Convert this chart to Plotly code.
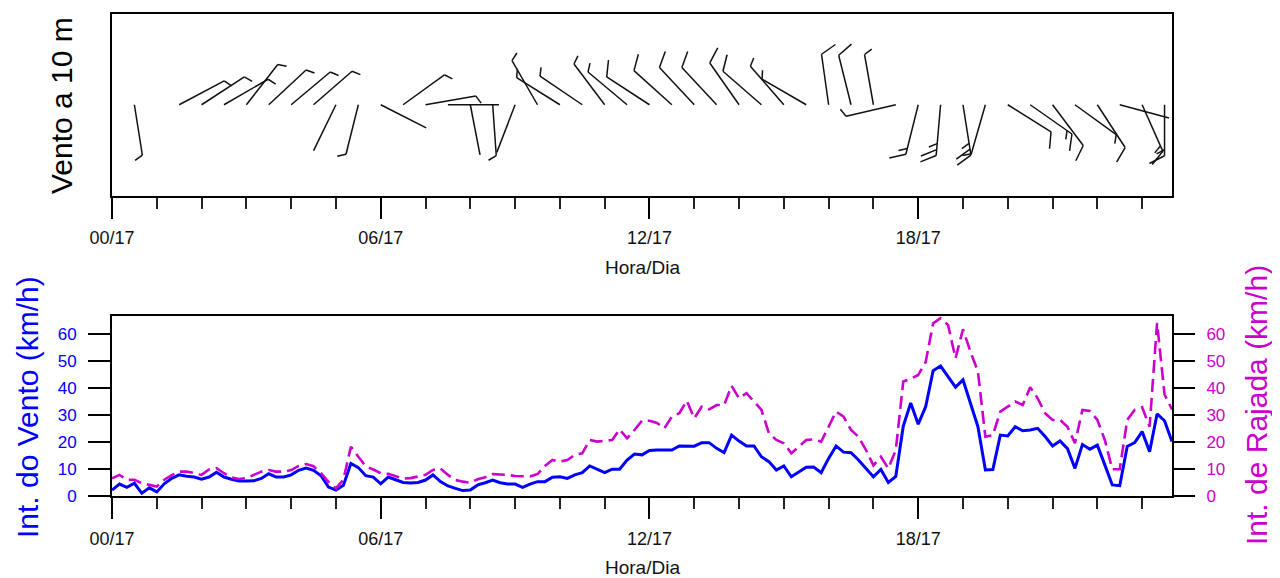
import math
import plotly.graph_objects as go

# ---------------- data ----------------
# 10-minute observations on day 17, 00:00 .. 23:40
wind_kmh = [2.2, 4.4, 3.2, 4.7, 1.0, 3.0, 1.5, 4.5, 6.5, 7.8, 7.3, 7.0, 6.2, 7.0, 8.8, 7.0, 6.2, 5.5, 5.5, 5.6,
            6.5, 8.2, 7.0, 7.0, 7.8, 9.5, 10.3, 9.5, 7.5, 3.3, 2.2, 4.0, 12.0, 10.5, 7.5, 7.0, 4.5, 7.0, 6.0, 5.0,
            4.8, 5.0, 5.9, 7.8, 5.3, 3.7, 2.8, 2.0, 2.2, 4.1, 4.9, 5.9, 4.9, 4.4, 4.4, 3.2, 4.4, 5.3, 5.3, 6.9,
            7.1, 6.5, 7.8, 8.6, 11.1, 9.9, 8.6, 9.9, 9.9, 13.3, 15.5, 15.2, 16.8, 17.0, 17.0, 17.0, 18.5, 18.4, 18.4, 19.7,
            19.7, 17.6, 16.0, 22.5, 20.3, 18.5, 18.5, 14.5, 12.7, 9.6, 11.1, 7.1, 9.0, 10.6, 10.7, 8.6, 13.9, 18.5, 16.2, 16.0,
            13.3, 10.2, 7.1, 9.8, 5.0, 7.2, 25.8, 34.4, 26.5, 33.0, 46.3, 48.0, 44.1, 40.2, 42.9, 34.3, 25.6, 9.6, 9.8, 22.5,
            22.2, 25.6, 24.1, 24.4, 25.0, 22.0, 18.5, 20.3, 17.5, 10.2, 19.0, 17.3, 18.8, 11.5, 4.1, 3.8, 18.3, 19.7, 23.8, 16.4,
            30.3, 27.8, 20.1]

gust_kmh = [6.5, 7.8, 6.0, 6.0, 4.7, 4.0, 3.5, 6.0, 7.7, 9.0, 9.0, 8.5, 7.8, 9.8, 10.3, 8.4, 6.9, 6.3, 6.6, 7.8,
            9.0, 9.6, 9.0, 9.0, 9.6, 11.1, 11.8, 11.0, 8.4, 5.2, 2.8, 6.0, 18.2, 14.5, 11.0, 9.8, 8.4, 8.2, 7.2, 6.4,
            6.6, 7.2, 7.8, 9.6, 10.2, 7.8, 5.9, 5.3, 4.9, 6.2, 6.9, 8.1, 8.0, 7.8, 7.4, 7.2, 7.2, 8.1, 11.1, 13.3,
            12.7, 13.3, 15.2, 15.8, 20.7, 20.1, 20.3, 20.7, 24.6, 21.3, 24.4, 27.8, 27.8, 27.0, 25.0, 29.3, 30.6, 35.2, 28.7, 33.0,
            32.0, 33.6, 33.6, 40.7, 36.1, 38.0, 34.9, 31.8, 23.2, 20.7, 19.5, 15.8, 18.2, 20.7, 20.9, 20.1, 25.6, 31.2, 29.3, 24.4,
            21.9, 17.0, 11.3, 14.5, 10.2, 17.0, 42.3, 43.3, 44.7, 49.5, 63.8, 65.7, 63.2, 50.9, 61.6, 53.3, 46.0, 21.9, 22.5, 31.2,
            33.0, 34.9, 33.6, 40.2, 36.1, 30.6, 28.1, 28.1, 25.6, 19.5, 31.8, 31.4, 28.1, 20.7, 9.9, 9.9, 28.1, 31.8, 32.8, 25.6,
            64.0, 37.5, 32.0]

# wind direction (deg, meteorological) every 30 min, 00:30 .. 23:30 ; None = calm
barb_dir = [171, None, 62, 57, 60, 38, 47, 50, 49, 206, 194, 117, 54, 80, 90, 169,
            176, 201, 330, 302, 304, 323, 310, 303, 312, 317, 317, 325, 311, 319, 300, 352,
            346, 350, 257, 194, 185, 171, 196, 122, 125, 143, 126, 147, 105, 156, 180]

tick_hours = [0, 6, 12, 18]
tick_text = ["00/17", "06/17", "12/17", "18/17"]
minor_hours = [h for h in range(24) if h % 6]

# ---------------- layout constants ----------------
# the page body has an 8 px margin, so the figure is drawn 8 px smaller / shifted
OFF = 8
W, H = 1280 - OFF, 578 - OFF
ML, MT, MB = 112 - OFF, 14 - OFF, 82
PW = 1060
MR = W - ML - PW
PH = H - MT - MB
top_px = (14, 195.5)     # top panel (screen pixels from top)
bot_px = (316, 496)      # bottom panel


def py2paper(py):
    return (496 - py) / PH


def px2paper(px):
    return (px - 112) / PW


hours = [i / 6.0 for i in range(len(wind_kmh))]
xmax = hours[-1]
px_per_h = PW / xmax
half_h = (top_px[1] - top_px[0]) / 2.0

# ---------------- wind barbs ----------------
L_SHAFT, L_FULL, L_HALF, SPACING, ANG = 51.0, 17.0, 9.0, 6.0, math.radians(63)
bx, by = [], []


def seg(h, x0, y0, x1, y1):
    bx.extend([h + x0 / px_per_h, h + x1 / px_per_h, None])
    by.extend([y0, y1, None])


for k, d in enumerate(barb_dir):
    h = 0.5 + 0.5 * k
    if d is None:
        continue
    spd = wind_kmh[int(round(h * 6))]
    kt = int(round(spd / 1.852 / 5.0)) * 5
    r = math.radians(d)
    ux, uy = math.sin(r), math.cos(r)
    tx, ty = L_SHAFT * ux, L_SHAFT * uy
    seg(h, 0, 0, tx, ty)
    fx = ux * math.cos(ANG) + uy * math.sin(ANG)
    fy = -ux * math.sin(ANG) + uy * math.cos(ANG)
    n10, n5 = kt // 10, (kt % 10) // 5
    pos = 0
    for _ in range(n10):
        sx, sy = tx - pos * SPACING * ux, ty - pos * SPACING * uy
        seg(h, sx, sy, sx + L_FULL * fx, sy + L_FULL * fy)
        pos += 1
    if n5:
        sx, sy = tx - pos * SPACING * ux, ty - pos * SPACING * uy
        seg(h, sx, sy, sx + L_HALF * fx, sy + L_HALF * fy)

# ---------------- figure ----------------
BLUE = "#0000ff"
MAG = "#cc00cc"
FONT = "Liberation Sans, Arial, Helvetica, sans-serif"

fig = go.Figure()
fig.add_trace(go.Scatter(x=bx, y=by, mode="lines", line=dict(color="#111111", width=1.5),
                         xaxis="x", yaxis="y", hoverinfo="skip", showlegend=False))
fig.add_trace(go.Scatter(x=hours, y=gust_kmh, mode="lines",
                         line=dict(color=MAG, width=2.6, dash="13px,6px"),
                         xaxis="x2", yaxis="y3", showlegend=False, name="Rajada"))
fig.add_trace(go.Scatter(x=hours, y=wind_kmh, mode="lines",
                         line=dict(color=BLUE, width=3),
                         xaxis="x2", yaxis="y2", showlegend=False, name="Vento"))

xcommon = dict(range=[0, xmax], tickmode="array", tickvals=tick_hours, ticktext=tick_text,
               ticks="outside", ticklen=21, tickwidth=2, tickcolor="black",
               showline=True, linewidth=2, linecolor="black", mirror=True,
               showgrid=False, zeroline=False, ticklabelstandoff=4,
               tickfont=dict(family=FONT, size=18, color="#111"),
               minor=dict(tickmode="array", tickvals=minor_hours, ticks="outside", ticklen=11,
                          tickwidth=1.5, tickcolor="#222", showgrid=False))

ymax = 66.5
yticks = [0, 10, 20, 30, 40, 50, 60]

fig.update_layout(
    width=W, height=H, margin=dict(l=ML, r=MR, t=MT, b=MB, autoexpand=False),
    paper_bgcolor="white", plot_bgcolor="white", showlegend=False,
    font=dict(family=FONT),
    xaxis=dict(domain=[0, 1], anchor="y", **xcommon),
    yaxis=dict(domain=[py2paper(top_px[1]), 1], range=[-half_h, half_h], anchor="x",
               showline=True, linewidth=2, linecolor="black", mirror=True,
               showticklabels=False, ticks="", showgrid=False, zeroline=False),
    xaxis2=dict(domain=[0, 1], anchor="y2", **xcommon),
    yaxis2=dict(domain=[0, py2paper(bot_px[0])], range=[0, ymax], anchor="x2",
                tickvals=yticks, ticks="outside", ticklen=22, tickwidth=2, tickcolor="black",
                showline=True, linewidth=2, linecolor="black", mirror=True,
                showgrid=False, zeroline=False, ticklabelstandoff=8,
                tickfont=dict(family=FONT, size=17, color=BLUE)),
    yaxis3=dict(range=[0, ymax], overlaying="y2", side="right", anchor="x2",
                tickvals=yticks, ticks="outside", ticklen=22, tickwidth=2, tickcolor="black",
                showline=False, showgrid=False, zeroline=False, ticklabelstandoff=8,
                tickfont=dict(family=FONT, size=17, color=MAG)),
    annotations=[
        dict(text="Vento a 10 m", x=px2paper(61), y=py2paper(106), xref="paper", yref="paper",
             xanchor="center", yanchor="middle",
             textangle=-90, showarrow=False, font=dict(size=30, color="black", family=FONT)),
        dict(text="Hora/Dia", x=0.5, y=py2paper(267), xref="paper", yref="paper",
             xanchor="center", yanchor="middle",
             showarrow=False, font=dict(size=19, color="#111", family=FONT)),
        dict(text="Hora/Dia", x=0.5, y=py2paper(567), xref="paper", yref="paper",
             xanchor="center", yanchor="middle",
             showarrow=False, font=dict(size=19, color="#111", family=FONT)),
        dict(text="Int. do Vento (km/h)", x=px2paper(27), y=py2paper(407), xref="paper", yref="paper",
             xanchor="center", yanchor="middle",
             textangle=-90, showarrow=False, font=dict(size=30, color=BLUE, family=FONT)),
        dict(text="Int. de Rajada (km/h)", x=px2paper(1256), y=py2paper(405), xref="paper", yref="paper",
             xanchor="center", yanchor="middle",
             textangle=-90, showarrow=False, font=dict(size=30, color=MAG, family=FONT)),
    ],
)

fig.write_html("out.html", config={"displayModeBar": False})
